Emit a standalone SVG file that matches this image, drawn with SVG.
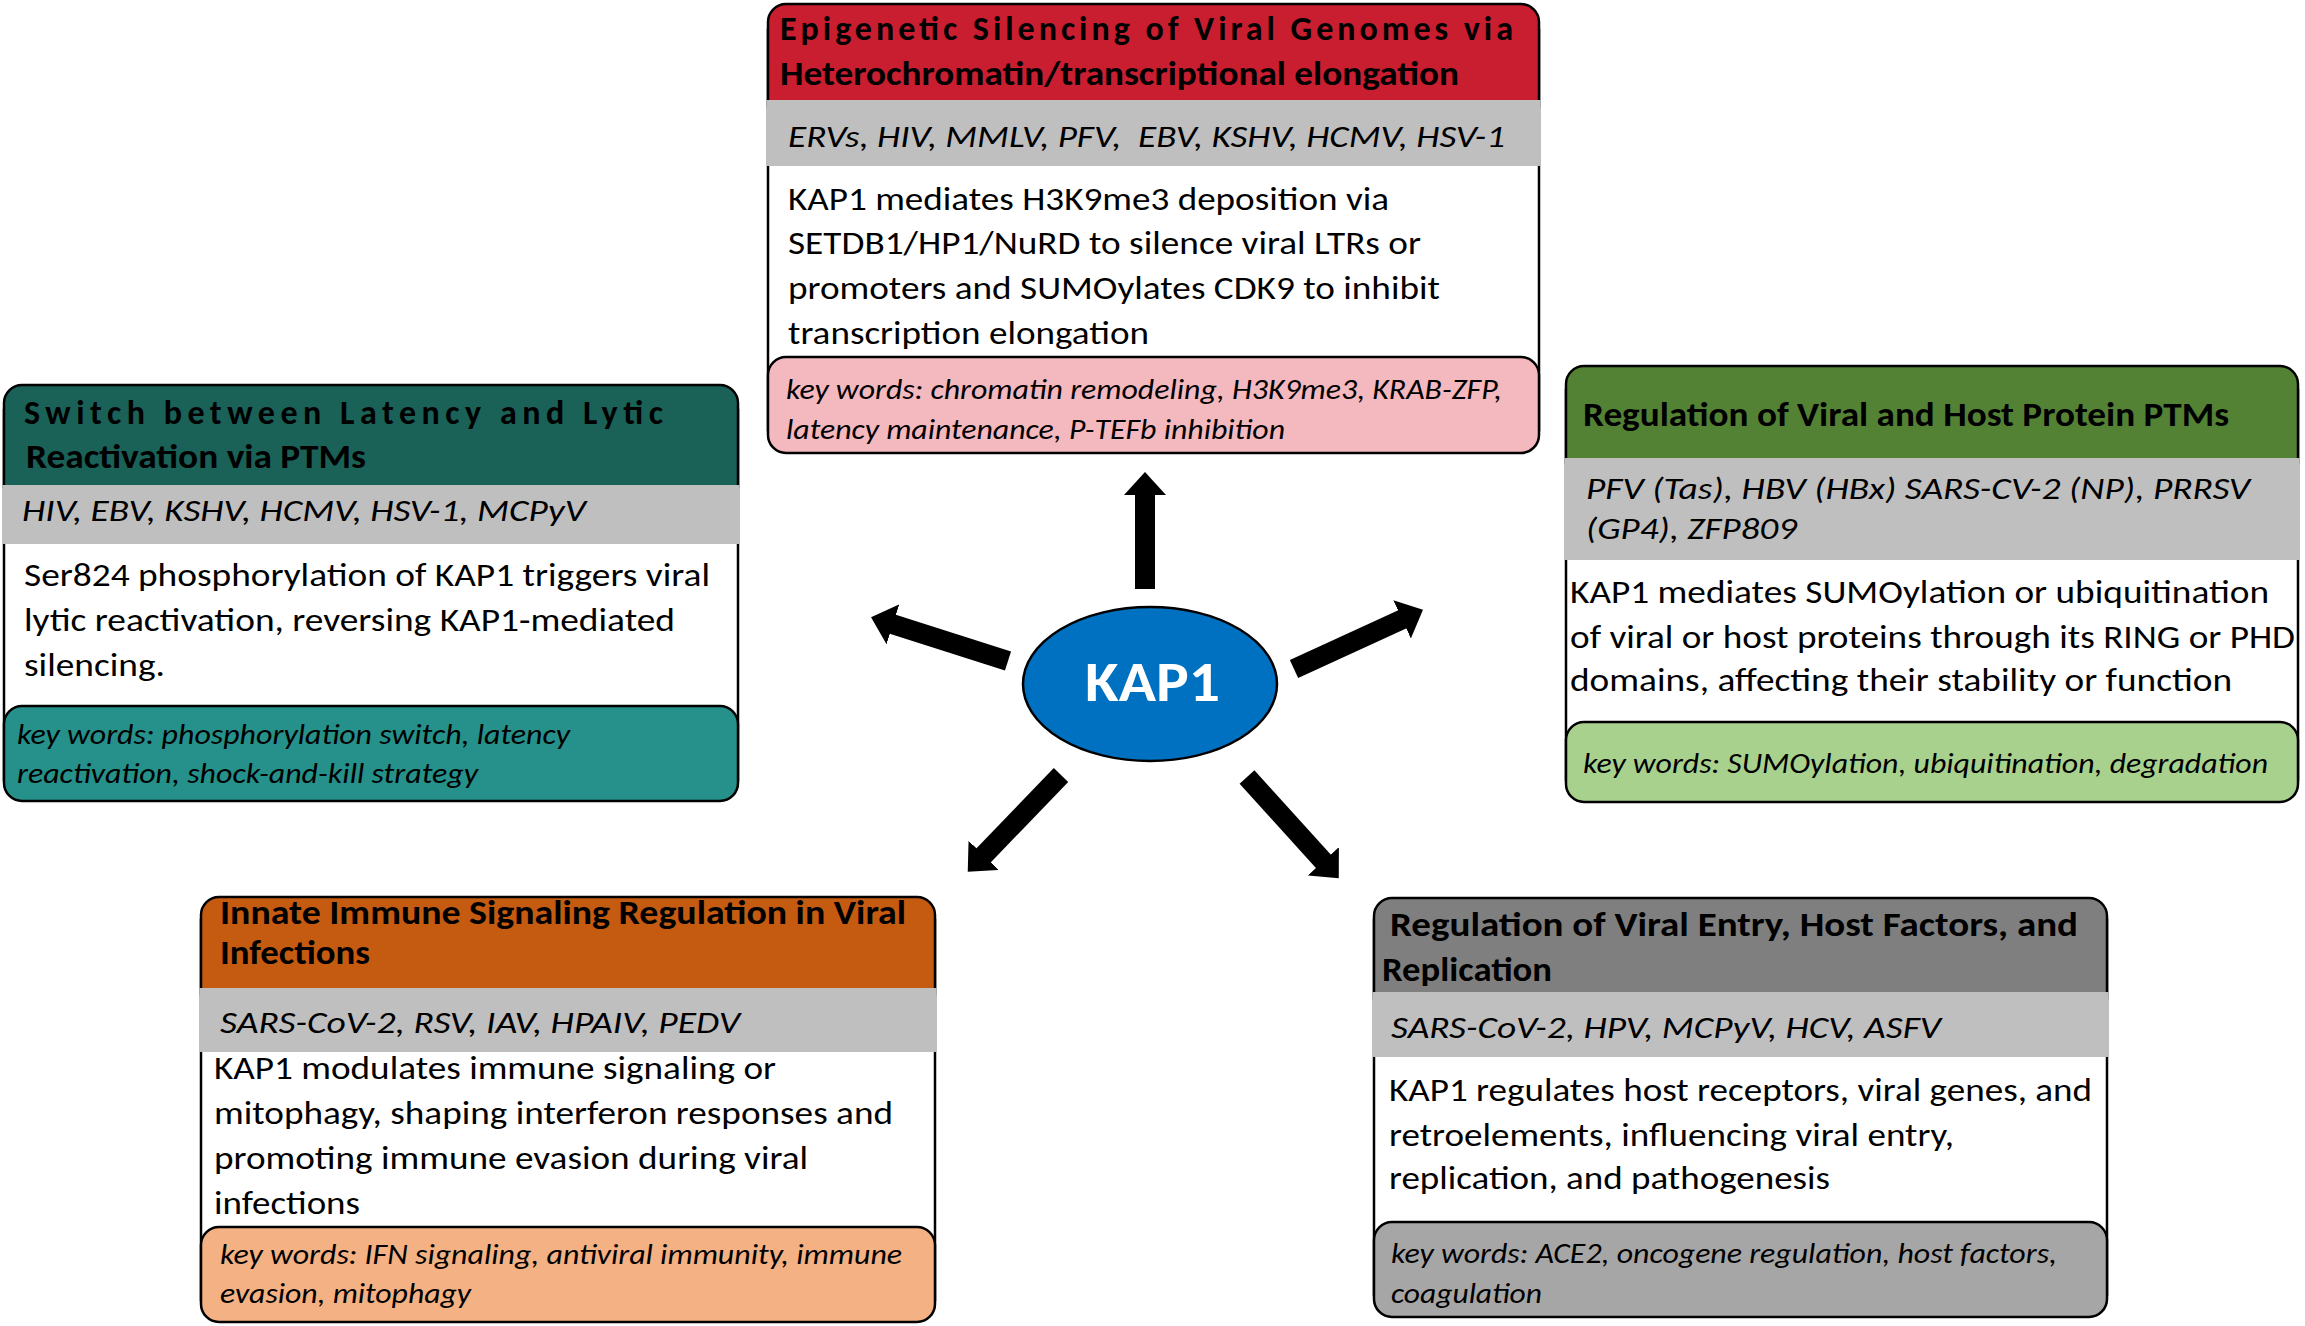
<svg xmlns="http://www.w3.org/2000/svg" width="2305" height="1326" viewBox="0 0 2305 1326">
<style>
text{font-family:Carlito,Lato,"Liberation Sans",sans-serif;fill:#000}
.t{font-size:34px;font-weight:bold}
.g{font-size:30px;font-style:italic}
.b{font-size:33.5px}
.k{font-size:28.5px;font-style:italic}
.bd{stroke:#000;stroke-width:2.5}
.band{fill:#bfbfbf}
.body{fill:#fff;stroke:#000;stroke-width:2.5}
.arr{stroke:#000;stroke-width:20;fill:none;marker-end:url(#ah)}
</style>
<defs>
<marker id="ah" markerUnits="userSpaceOnUse" viewBox="0 0 23 42" markerWidth="23" markerHeight="42" refX="1" refY="21" orient="auto">
<path d="M0,0 L23,21 L0,42 z" fill="#000"/>
</marker>
</defs>
<rect width="2305" height="1326" fill="#fff"/>

<g id="node-epigenetic">
<rect class="body" x="768" y="30" width="771" height="400"/>
<rect class="bd" x="768" y="4" width="771" height="120" rx="18" fill="#c81e30"/>
<rect class="band" x="766.5" y="100" width="774" height="66"/>
<rect class="bd" x="768" y="357" width="771" height="96" rx="18" fill="#f4b8bf"/>
<text class="t" x="780" y="40" textLength="733" lengthAdjust="spacing">Epigenetic Silencing of Viral Genomes via</text>
<text class="t" x="780" y="85" textLength="679" lengthAdjust="spacingAndGlyphs">Heterochromatin/transcriptional elongation</text>
<text class="g" x="788" y="147" textLength="717" lengthAdjust="spacingAndGlyphs" xml:space="preserve">ERVs, HIV, MMLV, PFV,  EBV, KSHV, HCMV, HSV-1</text>
<text class="b" x="788" y="210" textLength="601" lengthAdjust="spacingAndGlyphs">KAP1 mediates H3K9me3 deposition via</text>
<text class="b" x="788" y="254" textLength="633" lengthAdjust="spacingAndGlyphs">SETDB1/HP1/NuRD to silence viral LTRs or</text>
<text class="b" x="788" y="299" textLength="652" lengthAdjust="spacingAndGlyphs">promoters and SUMOylates CDK9 to inhibit</text>
<text class="b" x="788" y="344" textLength="361" lengthAdjust="spacingAndGlyphs">transcription elongation</text>
<text class="k" x="786" y="399" textLength="716" lengthAdjust="spacingAndGlyphs">key words: chromatin remodeling, H3K9me3, KRAB-ZFP,</text>
<text class="k" x="786" y="439" textLength="499" lengthAdjust="spacingAndGlyphs">latency maintenance, P-TEFb inhibition</text>
</g>

<g id="node-switch">
<rect class="body" x="4" y="410" width="734" height="370"/>
<rect class="bd" x="4" y="385" width="734" height="120" rx="18" fill="#1a6158"/>
<rect class="band" x="2.5" y="485" width="737" height="59"/>
<rect class="bd" x="4" y="706" width="734" height="95" rx="18" fill="#25918a"/>
<text class="t" x="24" y="424" textLength="639" lengthAdjust="spacing">Switch between Latency and Lytic</text>
<text class="t" x="26" y="468" textLength="340" lengthAdjust="spacingAndGlyphs">Reactivation via PTMs</text>
<text class="g" x="22" y="521" textLength="564" lengthAdjust="spacingAndGlyphs">HIV, EBV, KSHV, HCMV, HSV-1, MCPyV</text>
<text class="b" x="24" y="586" textLength="686" lengthAdjust="spacingAndGlyphs">Ser824 phosphorylation of KAP1 triggers viral</text>
<text class="b" x="24" y="631" textLength="651" lengthAdjust="spacingAndGlyphs">lytic reactivation, reversing KAP1-mediated</text>
<text class="b" x="24" y="676" textLength="141" lengthAdjust="spacingAndGlyphs">silencing.</text>
<text class="k" x="17" y="744" textLength="553" lengthAdjust="spacingAndGlyphs">key words: phosphorylation switch, latency</text>
<text class="k" x="17" y="783" textLength="461" lengthAdjust="spacingAndGlyphs">reactivation, shock-and-kill strategy</text>
</g>

<g id="node-ptms">
<rect class="body" x="1566" y="390" width="732" height="390"/>
<rect class="bd" x="1566" y="366" width="732" height="115" rx="18" fill="#548235"/>
<rect class="band" x="1564.5" y="458" width="735" height="102"/>
<rect class="bd" x="1566" y="722" width="732" height="80" rx="18" fill="#a9d18e"/>
<text class="t" x="1583" y="426" textLength="646" lengthAdjust="spacingAndGlyphs">Regulation of Viral and Host Protein PTMs</text>
<text class="g" x="1586" y="499" textLength="664" lengthAdjust="spacingAndGlyphs">PFV (Tas), HBV (HBx) SARS-CV-2 (NP), PRRSV</text>
<text class="g" x="1586" y="539" textLength="211" lengthAdjust="spacingAndGlyphs">(GP4), ZFP809</text>
<text class="b" x="1570" y="603" textLength="699" lengthAdjust="spacingAndGlyphs">KAP1 mediates SUMOylation or ubiquitination</text>
<text class="b" x="1570" y="648" textLength="725" lengthAdjust="spacingAndGlyphs">of viral or host proteins through its RING or PHD</text>
<text class="b" x="1570" y="691" textLength="662" lengthAdjust="spacingAndGlyphs">domains, affecting their stability or function</text>
<text class="k" x="1583" y="773" textLength="685" lengthAdjust="spacingAndGlyphs">key words: SUMOylation, ubiquitination, degradation</text>
</g>

<g id="node-innate">
<rect class="body" x="201" y="920" width="734" height="380"/>
<rect class="bd" x="201" y="897" width="734" height="115" rx="18" fill="#c55a11"/>
<rect class="band" x="199.5" y="988" width="737" height="64"/>
<rect class="bd" x="201" y="1227" width="734" height="95" rx="18" fill="#f4b183"/>
<text class="t" x="220" y="924" textLength="686" lengthAdjust="spacingAndGlyphs">Innate Immune Signaling Regulation in Viral</text>
<text class="t" x="220" y="964" textLength="150" lengthAdjust="spacingAndGlyphs">Infections</text>
<text class="g" x="220" y="1033" textLength="520" lengthAdjust="spacingAndGlyphs">SARS-CoV-2, RSV, IAV, HPAIV, PEDV</text>
<text class="b" x="214" y="1079" textLength="562" lengthAdjust="spacingAndGlyphs">KAP1 modulates immune signaling or</text>
<text class="b" x="214" y="1124" textLength="679" lengthAdjust="spacingAndGlyphs">mitophagy, shaping interferon responses and</text>
<text class="b" x="214" y="1169" textLength="594" lengthAdjust="spacingAndGlyphs">promoting immune evasion during viral</text>
<text class="b" x="214" y="1214" textLength="146" lengthAdjust="spacingAndGlyphs">infections</text>
<text class="k" x="220" y="1264" textLength="682" lengthAdjust="spacingAndGlyphs">key words: IFN signaling, antiviral immunity, immune</text>
<text class="k" x="220" y="1303" textLength="251" lengthAdjust="spacingAndGlyphs">evasion, mitophagy</text>
</g>

<g id="node-entry">
<rect class="body" x="1374" y="920" width="733" height="375"/>
<rect class="bd" x="1374" y="898" width="733" height="118" rx="18" fill="#7f7f7f"/>
<rect class="band" x="1372.5" y="992" width="736" height="65"/>
<rect class="bd" x="1374" y="1222" width="733" height="95" rx="18" fill="#a6a6a6"/>
<text class="t" x="1390" y="936" textLength="688" lengthAdjust="spacingAndGlyphs">Regulation of Viral Entry, Host Factors, and</text>
<text class="t" x="1382" y="981" textLength="170" lengthAdjust="spacingAndGlyphs">Replication</text>
<text class="g" x="1391" y="1038" textLength="550" lengthAdjust="spacingAndGlyphs">SARS-CoV-2, HPV, MCPyV, HCV, ASFV</text>
<text class="b" x="1389" y="1101" textLength="703" lengthAdjust="spacingAndGlyphs">KAP1 regulates host receptors, viral genes, and</text>
<text class="b" x="1389" y="1146" textLength="565" lengthAdjust="spacingAndGlyphs">retroelements, influencing viral entry,</text>
<text class="b" x="1389" y="1189" textLength="441" lengthAdjust="spacingAndGlyphs">replication, and pathogenesis</text>
<text class="k" x="1391" y="1263" textLength="666" lengthAdjust="spacingAndGlyphs">key words: ACE2, oncogene regulation, host factors,</text>
<text class="k" x="1391" y="1303" textLength="151" lengthAdjust="spacingAndGlyphs">coagulation</text>
</g>

<g id="node-kap1">
<ellipse cx="1150" cy="684" rx="127" ry="77" fill="#0070c0" stroke="#000" stroke-width="2.5"/>
<text x="1085" y="701" font-size="57" font-weight="bold" textLength="135" lengthAdjust="spacingAndGlyphs" style="fill:#fff">KAP1</text>
</g>

<g id="connectors">
<line class="arr" x1="1145" y1="589" x2="1145" y2="494"/>
<line class="arr" x1="1008" y1="661" x2="892" y2="624"/>
<line class="arr" x1="1294" y1="669" x2="1403" y2="619"/>
<line class="arr" x1="1061" y1="775" x2="983" y2="856"/>
<line class="arr" x1="1247" y1="777" x2="1324" y2="862"/>
</g>
</svg>
